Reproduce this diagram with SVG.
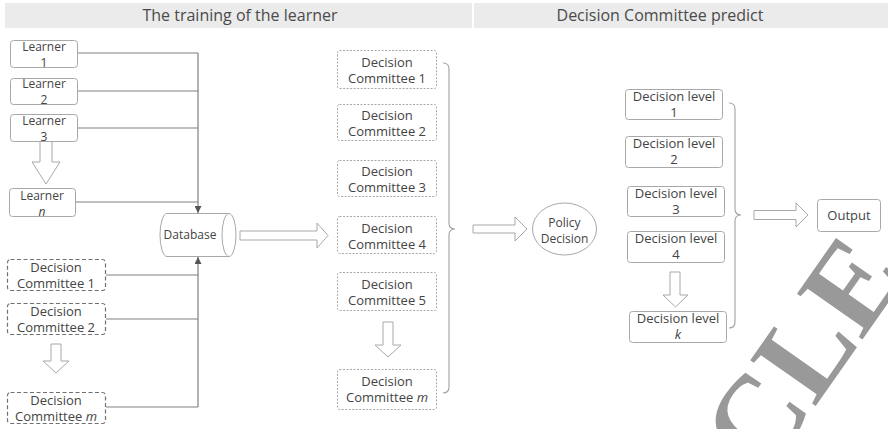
<svg xmlns="http://www.w3.org/2000/svg" width="888" height="429" viewBox="0 0 888 429">
  <defs>
    <style>
      text { font-family: "Open Sans", "Noto Sans", sans-serif; fill: #444; text-anchor: middle; }
      .hdr { fill: #ebebeb; }
      .hdr-t { font-size: 16px; fill: #4a4a4a; }
      .solid { fill: #fff; stroke: #a8a8a8; stroke-width: 1; }
      .dash { fill: #fff; stroke: #707070; stroke-width: 1.2; stroke-dasharray: 4 2.5; }
      .dot { fill: #fff; stroke: #a8a8a8; stroke-width: 1; stroke-dasharray: 2 1.5; }
      .t12 { font-size: 12px; }
      .t13 { font-size: 13px; }
      .wire { fill: none; stroke: #808080; stroke-width: 1.2; }
      .brace { fill: none; stroke: #a0a0a0; stroke-width: 1.1; }
      .hollow { fill: #fff; stroke: #a8a8a8; stroke-width: 1; stroke-linejoin: miter; }
      .mark { font-family: "Liberation Serif", serif; font-weight: bold; font-size: 122px; fill: #999; text-anchor: start; }
    </style>
    <marker id="tip" viewBox="0 0 8 8" refX="8" refY="4" markerWidth="7" markerHeight="7" orient="auto" markerUnits="userSpaceOnUse">
      <path d="M0,0 L8,4 L0,8 z" fill="#555"/>
    </marker>
  </defs>

  <rect width="888" height="429" fill="#fff"/>

  <!-- section headers -->
  <g id="headers">
    <rect class="hdr" x="5" y="3" width="467" height="25"/>
    <rect class="hdr" x="474" y="3" width="414" height="25"/>
    <text class="hdr-t" x="240" y="21">The training of the learner</text>
    <text class="hdr-t" x="660" y="21">Decision Committee predict</text>
  </g>

  <!-- connectors -->
  <g id="connectors">
    <path class="wire" d="M78,53 H198 M78,91 H198 M78,128 H198 M75,202 H198"/>
    <path class="wire" d="M198,53 V213" marker-end="url(#tip)"/>
    <path class="wire" d="M106,275 H198 M106,319 H198 M106,407 H198"/>
    <path class="wire" d="M198,407 V257" marker-end="url(#tip)"/>
    <!-- braces -->
    <path class="brace" d="M443,63 Q449,63 449,69 V223 Q449,229 455,229 Q449,229 449,235 V387 Q449,393 443,393"/>
    <path class="brace" d="M729,103 Q735,103 735,109 V209 Q735,215 741,215 Q735,215 735,221 V322 Q735,328 729,328"/>
    <!-- hollow arrows -->
    <polygon class="hollow" points="240,231 317,231 317,223 328,235.5 317,248 317,240 240,240"/>
    <polygon class="hollow" points="473,225 515,225 515,217 527,229 515,241 515,233 473,233"/>
    <polygon class="hollow" points="754,210.5 796,210.5 796,203 808,215 796,227 796,219.5 754,219.5"/>
    <polygon class="hollow" points="40,140 52,140 52,162 60,162 46,184 32,162 40,162"/>
    <polygon class="hollow" points="51,344 61,344 61,361 69,361 56,373 43,361 51,361"/>
    <polygon class="hollow" points="383,322 393,322 393,345 401,345 388,357 375,345 383,345"/>
    <polygon class="hollow" points="670,272 680,272 680,295 688,295 675.5,307 663,295 670,295"/>
  </g>

  <!-- learners -->
  <g id="learner-1"><rect class="solid" x="10.5" y="40.5" width="67" height="27" rx="3"/><text class="t12" x="44" y="51">Learner</text><text class="t12" x="44" y="67">1</text></g>
  <g id="learner-2"><rect class="solid" x="10.5" y="78.5" width="67" height="26" rx="3"/><text class="t12" x="44" y="88">Learner</text><text class="t12" x="44" y="104">2</text></g>
  <g id="learner-3"><rect class="solid" x="10.5" y="114.5" width="67" height="27" rx="3"/><text class="t12" x="44" y="125">Learner</text><text class="t12" x="44" y="141">3</text></g>
  <g id="learner-n"><rect class="solid" x="9.5" y="188.5" width="66" height="28" rx="3"/><text class="t12" x="42" y="199.5">Learner</text><text class="t12" x="42" y="215.5" font-style="italic">n</text></g>

  <!-- committees feeding the database -->
  <g id="in-committee-1"><rect class="dash" x="7.5" y="259.5" width="98" height="31" rx="3"/><text class="t13" x="56" y="272">Decision</text><text class="t13" x="56" y="288">Committee 1</text></g>
  <g id="in-committee-2"><rect class="dash" x="7.5" y="303.5" width="98" height="31" rx="3"/><text class="t13" x="56" y="316">Decision</text><text class="t13" x="56" y="332">Committee 2</text></g>
  <g id="in-committee-m"><rect class="dash" x="7.5" y="392.5" width="98" height="31" rx="3"/><text class="t13" x="56" y="405">Decision</text><text class="t13" x="56" y="421">Committee <tspan font-style="italic">m</tspan></text></g>

  <!-- database -->
  <g id="database">
    <path class="solid" d="M229,213.5 H167 A7,21.5 0 0 0 167,256.5 H229" stroke="#c8c8c8"/>
    <ellipse class="solid" cx="229" cy="235" rx="7" ry="21.5" stroke="#c8c8c8"/>
    <text class="t12" x="190" y="239">Database</text>
  </g>

  <!-- decision committees -->
  <g id="committee-1"><rect class="dot" x="337.5" y="50.5" width="99" height="38" rx="2"/><text class="t13" x="387" y="67">Decision</text><text class="t13" x="387" y="83">Committee 1</text></g>
  <g id="committee-2"><rect class="dot" x="337.5" y="104.5" width="99" height="36" rx="2"/><text class="t13" x="387" y="120">Decision</text><text class="t13" x="387" y="136">Committee 2</text></g>
  <g id="committee-3"><rect class="dot" x="337.5" y="160.5" width="99" height="36" rx="2"/><text class="t13" x="387" y="176">Decision</text><text class="t13" x="387" y="192">Committee 3</text></g>
  <g id="committee-4"><rect class="dot" x="337.5" y="216.5" width="99" height="37" rx="2"/><text class="t13" x="387" y="232.5">Decision</text><text class="t13" x="387" y="248.5">Committee 4</text></g>
  <g id="committee-5"><rect class="dot" x="337.5" y="272.5" width="99" height="38" rx="2"/><text class="t13" x="387" y="288.5">Decision</text><text class="t13" x="387" y="304.5">Committee 5</text></g>
  <g id="committee-m"><rect class="dot" x="337.5" y="369.5" width="99" height="40" rx="2"/><text class="t13" x="387" y="386">Decision</text><text class="t13" x="387" y="402">Committee <tspan font-style="italic">m</tspan></text></g>

  <!-- policy decision -->
  <g id="policy-decision">
    <ellipse class="solid" cx="564.5" cy="229" rx="32" ry="26"/>
    <text class="t12" x="564.5" y="227">Policy</text>
    <text class="t12" x="564.5" y="243">Decision</text>
  </g>

  <!-- decision levels -->
  <g id="level-1"><rect class="solid" x="625.5" y="89.5" width="97" height="30" rx="3"/><text class="t13" x="674" y="101">Decision level</text><text class="t13" x="674" y="117">1</text></g>
  <g id="level-2"><rect class="solid" x="625.5" y="136.5" width="97" height="31" rx="3"/><text class="t13" x="674" y="148">Decision level</text><text class="t13" x="674" y="164">2</text></g>
  <g id="level-3"><rect class="solid" x="627.5" y="186.5" width="97" height="30" rx="3"/><text class="t13" x="676" y="198">Decision level</text><text class="t13" x="676" y="214">3</text></g>
  <g id="level-4"><rect class="solid" x="627.5" y="231.5" width="97" height="31" rx="3"/><text class="t13" x="676" y="243">Decision level</text><text class="t13" x="676" y="259">4</text></g>
  <g id="level-k"><rect class="solid" x="629.5" y="311.5" width="97" height="31" rx="3"/><text class="t13" x="678" y="323">Decision level</text><text class="t13" x="678" y="339" font-style="italic">k</text></g>

  <!-- output -->
  <g id="output"><rect class="solid" x="817.5" y="199.5" width="63" height="32" rx="3"/><text class="t13" x="849" y="219.5">Output</text></g>

  <!-- publisher stamp -->
  <text class="mark" transform="translate(764,480) rotate(-55)">CLE</text>
</svg>
